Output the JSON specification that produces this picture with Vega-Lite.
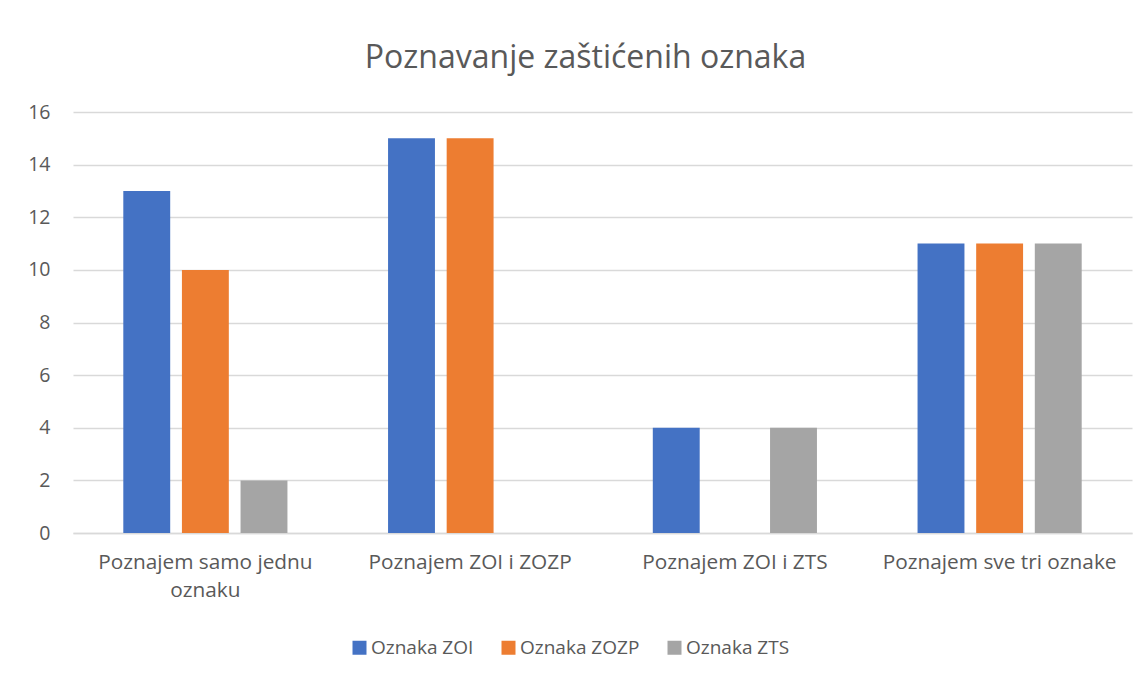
{
  "$schema": "https://vega.github.io/schema/vega-lite/v6.json",
  "width": 1059,
  "height": 421,
  "autosize": {"type": "none"},
  "padding": {"left": 73, "top": 112, "right": 16, "bottom": 144},
  "background": "white",
  "title": {
    "text": "Poznavanje zaštićenih oznaka",
    "fontSize": 32,
    "font": "Open Sans",
    "fontWeight": "normal",
    "color": "#595959",
    "offset": 27,
    "dx": -17
  },
  "data": {
    "values": [
      {"kategorija": "Poznajem samo jednu oznaku", "serija": "Oznaka ZOI", "vrijednost": 13},
      {"kategorija": "Poznajem samo jednu oznaku", "serija": "Oznaka ZOZP", "vrijednost": 10},
      {"kategorija": "Poznajem samo jednu oznaku", "serija": "Oznaka ZTS", "vrijednost": 2},
      {"kategorija": "Poznajem ZOI i ZOZP", "serija": "Oznaka ZOI", "vrijednost": 15},
      {"kategorija": "Poznajem ZOI i ZOZP", "serija": "Oznaka ZOZP", "vrijednost": 15},
      {"kategorija": "Poznajem ZOI i ZOZP", "serija": "Oznaka ZTS", "vrijednost": 0},
      {"kategorija": "Poznajem ZOI i ZTS", "serija": "Oznaka ZOI", "vrijednost": 4},
      {"kategorija": "Poznajem ZOI i ZTS", "serija": "Oznaka ZOZP", "vrijednost": 0},
      {"kategorija": "Poznajem ZOI i ZTS", "serija": "Oznaka ZTS", "vrijednost": 4},
      {"kategorija": "Poznajem sve tri oznake", "serija": "Oznaka ZOI", "vrijednost": 11},
      {"kategorija": "Poznajem sve tri oznake", "serija": "Oznaka ZOZP", "vrijednost": 11},
      {"kategorija": "Poznajem sve tri oznake", "serija": "Oznaka ZTS", "vrijednost": 11}
    ]
  },
  "mark": {"type": "bar"},
  "encoding": {
    "x": {
      "field": "kategorija",
      "type": "nominal",
      "sort": ["Poznajem samo jednu oznaku", "Poznajem ZOI i ZOZP", "Poznajem ZOI i ZTS", "Poznajem sve tri oznake"],
      "scale": {"paddingInner": 0.38, "paddingOuter": 0.19},
      "axis": {
        "title": null,
        "labelAngle": 0,
        "labelFont": "Open Sans",
        "labelFontSize": 20.8,
        "labelColor": "#595959",
        "labelPadding": 19,
        "labelLineHeight": 28,
        "labelLimit": 0,
        "labelExpr": "datum.value == 'Poznajem samo jednu oznaku' ? ['Poznajem samo jednu', 'oznaku'] : datum.value",
        "ticks": false,
        "domain": true,
        "domainColor": "#d9d9d9",
        "domainWidth": 1.5
      }
    },
    "xOffset": {
      "field": "serija",
      "type": "nominal",
      "sort": ["Oznaka ZOI", "Oznaka ZOZP", "Oznaka ZTS"],
      "scale": {"paddingInner": 0.2, "paddingOuter": 0}
    },
    "y": {
      "field": "vrijednost",
      "type": "quantitative",
      "scale": {"domain": [0, 16], "nice": false},
      "axis": {
        "title": null,
        "values": [0, 2, 4, 6, 8, 10, 12, 14, 16],
        "labelFont": "Open Sans",
        "labelFontSize": 19.5,
        "labelColor": "#595959",
        "labelPadding": 23,
        "ticks": false,
        "domain": false,
        "grid": true,
        "gridColor": "#d9d9d9",
        "gridWidth": 1.5
      }
    },
    "color": {
      "field": "serija",
      "type": "nominal",
      "scale": {
        "domain": ["Oznaka ZOI", "Oznaka ZOZP", "Oznaka ZTS"],
        "range": ["#4472C4", "#ED7D31", "#A5A5A5"]
      },
      "legend": {
        "title": null,
        "orient": "none",
        "legendX": 277,
        "legendY": 526,
        "direction": "horizontal",
        "symbolType": "square",
        "symbolSize": 196,
        "symbolStrokeWidth": 0,
        "labelFont": "Open Sans",
        "labelFontSize": 19,
        "labelColor": "#595959",
        "labelOffset": 2,
        "columnPadding": 25
      }
    }
  },
  "config": {"view": {"stroke": null}}
}
